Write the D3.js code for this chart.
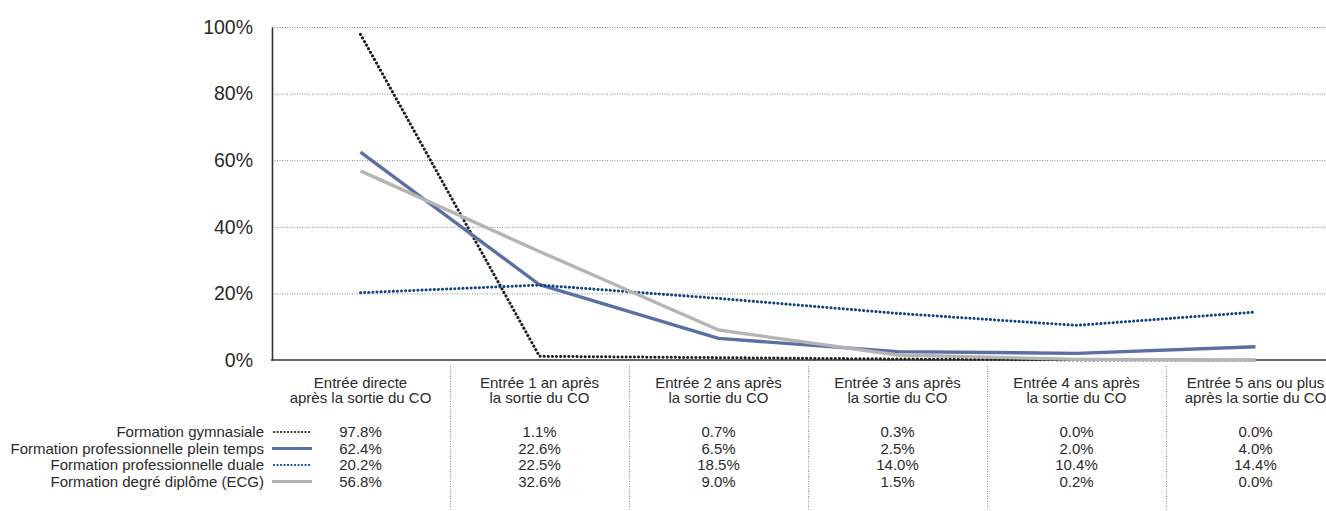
<!DOCTYPE html>
<html>
<head>
<meta charset="utf-8">
<script src="https://cdn.jsdelivr.net/npm/d3@7"></script>
<style>
  html, body { margin: 0; padding: 0; background: #fff; }
  svg { display: block; }
  text { font-family: "Liberation Sans", Arial, sans-serif; fill: #2a2a2a; }
</style>
</head>
<body>
<svg id="chart" width="1326" height="511"></svg>
<script>
// Entry timing after leaving the CO, by type of upper-secondary training
const categories = [
  ["Entrée directe", "après la sortie du CO"],
  ["Entrée 1 an après", "la sortie du CO"],
  ["Entrée 2 ans après", "la sortie du CO"],
  ["Entrée 3 ans après", "la sortie du CO"],
  ["Entrée 4 ans après", "la sortie du CO"],
  ["Entrée 5 ans ou plus", "après la sortie du CO"]
];
const seriesNames = [
  "Formation gymnasiale",
  "Formation professionnelle plein temps",
  "Formation professionnelle duale",
  "Formation degré diplôme (ECG)"
];
const gymnasiale = [97.8, 1.1, 0.7, 0.3, 0.0, 0.0];
const pleinTemps = [62.4, 22.6, 6.5, 2.5, 2.0, 4.0];
const duale = [20.2, 22.5, 18.5, 14.0, 10.4, 14.4];
const ecg = [56.8, 32.6, 9.0, 1.5, 0.2, 0.0];
const yTicks = [0, 20, 40, 60, 80, 100];

const series = [
  { name: seriesNames[0], values: gymnasiale, color: "#1e1e1e", width: 3, dash: "0.1,4" },
  { name: seriesNames[1], values: pleinTemps, color: "#5a6fa3", width: 3.4, dash: null },
  { name: seriesNames[2], values: duale, color: "#0f4185", width: 3, dash: "0.1,4" },
  { name: seriesNames[3], values: ecg, color: "#b4b4b4", width: 3.4, dash: null }
];

const svg = d3.select("#chart");
const plotLeft = 272, plotTop = 27, plotBottom = 360, plotRight = 1326;
const colW = 179;

const x = d3.scaleBand()
  .domain(d3.range(categories.length))
  .range([plotLeft - 1, plotLeft - 1 + colW * categories.length])
  .padding(0);
const y = d3.scaleLinear().domain([0, 100]).range([plotBottom, plotTop]);
const cx = i => x(i) + x.bandwidth() / 2;

// horizontal gridlines
svg.append("g")
  .selectAll("line")
  .data(yTicks.filter(t => t > 0))
  .join("line")
  .attr("x1", plotLeft).attr("x2", plotRight)
  .attr("y1", d => y(d) + 0.5).attr("y2", d => y(d) + 0.5)
  .attr("stroke", "#888").attr("stroke-width", 1)
  .attr("stroke-dasharray", "1,1.5");

// y axis
const yAxis = svg.append("g")
  .attr("transform", `translate(${plotLeft},0)`)
  .call(d3.axisLeft(y).tickValues(yTicks).tickSize(0).tickPadding(19).tickFormat(d => d + "%"));
yAxis.select(".domain").attr("stroke", "#333").attr("stroke-width", 1.6);
yAxis.selectAll("text")
  .style("font-family", "'Liberation Sans', Arial, sans-serif")
  .style("font-size", "19.5px").attr("fill", "#2a2a2a");

// x axis baseline
svg.append("line")
  .attr("x1", plotLeft - 1).attr("x2", plotRight)
  .attr("y1", plotBottom).attr("y2", plotBottom)
  .attr("stroke", "#333").attr("stroke-width", 1.6);

// column separators in the table area
svg.append("g")
  .selectAll("line")
  .data(d3.range(1, categories.length))
  .join("line")
  .attr("x1", d => x(d) + 0.5).attr("x2", d => x(d) + 0.5)
  .attr("y1", 366).attr("y2", 511)
  .attr("stroke", "#888").attr("stroke-width", 1)
  .attr("stroke-dasharray", "1,1.5");

// series lines
const line = d3.line().x((d, i) => cx(i)).y(d => y(d));
svg.append("g")
  .selectAll("path")
  .data(series)
  .join("path")
  .attr("d", d => line(d.values))
  .attr("fill", "none")
  .attr("stroke", d => d.color)
  .attr("stroke-width", d => d.width)
  .attr("stroke-linecap", d => d.dash ? "round" : "butt")
  .attr("stroke-linejoin", "round")
  .attr("stroke-dasharray", d => d.dash);

// category labels (two lines each)
const catG = svg.append("g");
categories.forEach((lines, i) => {
  lines.forEach((l, k) => {
    catG.append("text")
      .attr("x", cx(i)).attr("y", 388 + k * 15)
      .attr("text-anchor", "middle")
      .style("font-size", "15px")
      .text(l);
  });
});

// data table: legend rows and values
const rowY = [437, 453.5, 470, 486.5];
const table = svg.append("g");
series.forEach((s, r) => {
  table.append("text")
    .attr("x", 264).attr("y", rowY[r])
    .attr("text-anchor", "end")
    .style("font-size", "15px")
    .text(s.name);
  table.append("line")
    .attr("x1", s.dash ? 274 : 272).attr("x2", 312)
    .attr("y1", rowY[r] - 5).attr("y2", rowY[r] - 5)
    .attr("stroke", s.color)
    .attr("stroke-width", s.dash ? 2.2 : 3)
    .attr("stroke-linecap", s.dash ? "round" : "butt")
    .attr("stroke-dasharray", s.dash ? "0.1,3.4" : null);
  s.values.forEach((v, i) => {
    table.append("text")
      .attr("x", cx(i)).attr("y", rowY[r])
      .attr("text-anchor", "middle")
      .style("font-size", "15px")
      .text(v.toFixed(1) + "%");
  });
});
</script>
</body>
</html>
